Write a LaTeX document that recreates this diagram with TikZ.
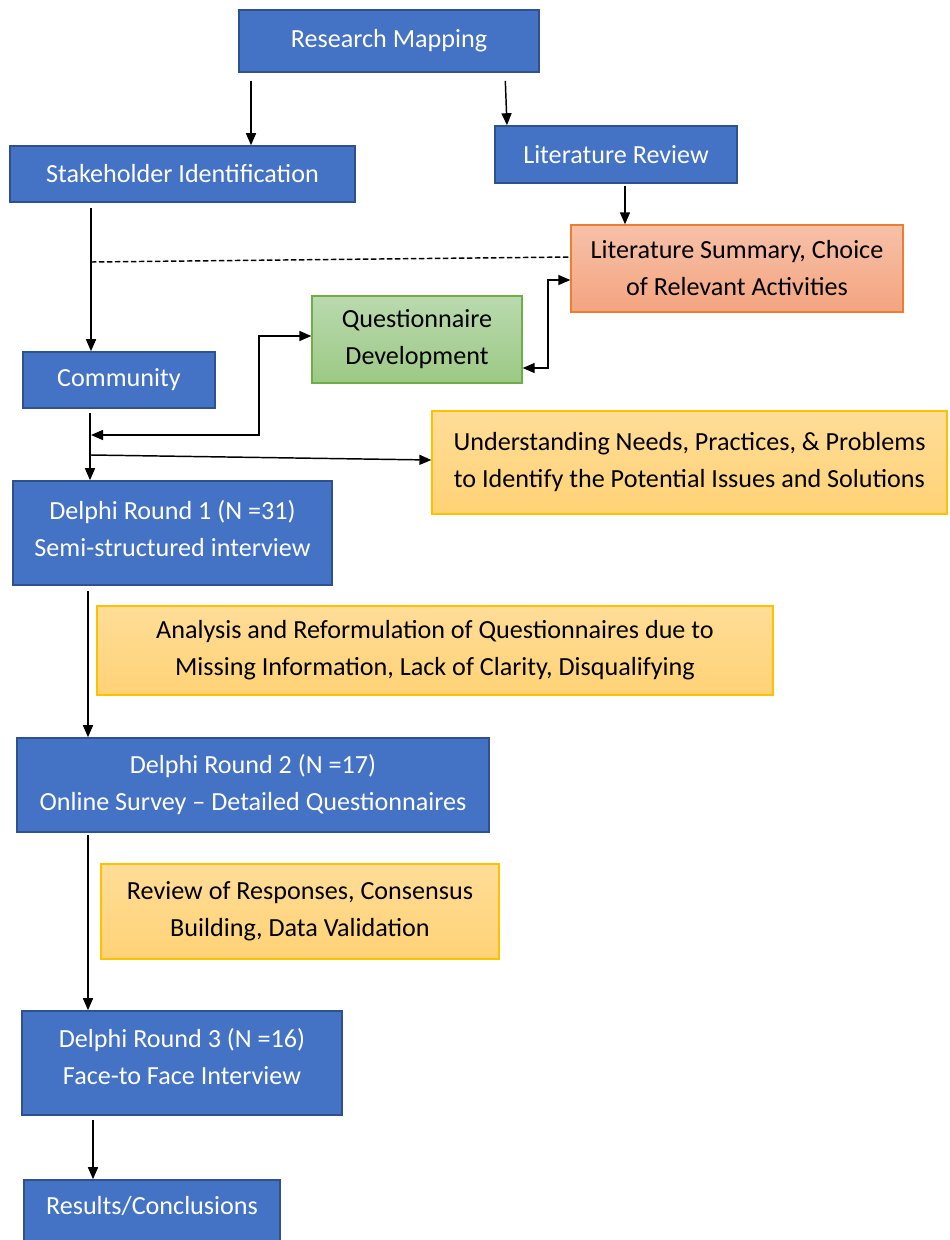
\documentclass[tikz,border=0pt]{standalone}
\usepackage{fontspec}
\setmainfont{Carlito}
\usetikzlibrary{arrows.meta}
\definecolor{stepblue}{HTML}{4472C4}
\definecolor{stepblueedge}{HTML}{2F528F}
\definecolor{salmontop}{HTML}{F6C1A9}
\definecolor{salmonbot}{HTML}{F4A47F}
\definecolor{salmonedge}{HTML}{ED7D31}
\definecolor{greentop}{HTML}{BADAAE}
\definecolor{greenbot}{HTML}{9CC985}
\definecolor{greenedge}{HTML}{70AD47}
\definecolor{yellowtop}{HTML}{FFDD98}
\definecolor{yellowbot}{HTML}{FFD275}
\definecolor{yellowedge}{HTML}{FFC000}
\tikzset{
  span/.style n args={4}{at={({(#1+#3)/2},{(#2+#4)/2})},
    minimum width={(#3-#1)*0.75pt}, minimum height={(#4-#2)*0.75pt}},
  box/.style={rectangle, inner sep=0pt, align=center,
    font=\fontsize{19.6}{27.75}\selectfont},
  bluebox/.style={box, fill=stepblue, draw=stepblueedge, line width=1.2pt, text=white},
  salmonbox/.style={box, draw=salmonedge, line width=1pt, top color=salmontop, bottom color=salmonbot},
  greenbox/.style={box, draw=greenedge, line width=1pt, top color=greentop, bottom color=greenbot},
  notebox/.style={box, draw=yellowedge, line width=1pt, top color=yellowtop, bottom color=yellowbot},
  arr/.style={line width=1.1pt, -{Triangle[length=9pt,width=7.5pt]}},
  arrboth/.style={line width=1.1pt, {Triangle[length=9pt,width=7.5pt]}-{Triangle[length=9pt,width=7.5pt]}},
  dashline/.style={line width=1.1pt, dash pattern=on 4pt off 2pt},
  plain/.style={box, text=white},
}
\begin{document}
\begin{tikzpicture}[x=0.75pt, y=-0.75pt]
\useasboundingbox (0,0) rectangle (950,1240);
\clip (0,0) rectangle (950,1240);

% process steps
\node[bluebox, span={239}{10}{539}{72}] (rm) {Research Mapping};
\node[bluebox, span={10}{146}{355}{202}] (si) {Stakeholder Identification};
\node[bluebox, span={495}{126}{737}{183}] (lr) {Literature Review};
\node[salmonbox, span={571}{225}{903}{312}] (ls) {Literature Summary, Choice\\of Relevant Activities};
\node[greenbox, span={312}{296}{522}{383}] (qd) {Questionnaire\\Development};
\node[bluebox, span={23}{352}{215}{408}] (com) {Community};
\node[notebox, span={432}{411}{947}{514}] (und) {Understanding Needs, Practices, \& Problems\\to Identify the Potential Issues and Solutions};
\node[bluebox, span={13}{481}{332}{585}] (d1) {};
\node[plain] (d1text) at ([yshift=3.5pt]d1.center) {Delphi Round 1 (N =31)\\Semi-structured interview};
\node[notebox, span={97}{606}{773}{695}] (ana) {Analysis and Reformulation of Questionnaires due to\\Missing Information, Lack of Clarity, Disqualifying};
\node[bluebox, span={17}{738}{489}{832}] (d2) {Delphi Round 2 (N =17)\\Online Survey -- Detailed Questionnaires};
\node[notebox, span={101}{864}{499}{959}] (rev) {Review of Responses, Consensus\\Building, Data Validation};
\node[bluebox, span={22}{1011}{342}{1115}] (d3) {};
\node[plain] (d3text) at ([yshift=4.5pt]d3.center) {Delphi Round 3 (N =16)\\Face-to Face Interview};
\node[bluebox, span={24}{1180}{280}{1250}] (res) {};
\node[plain] (restext) at (res.center |- 0,1206) {Results/Conclusions};

% junction points on the community line
\coordinate (dsh) at (91,262);
\coordinate (jq) at (91,435);
\coordinate (ju) at (91,455);

% connectors
\draw[arr, shorten <=6pt] (rm.south -| 251,0) -- (si.north -| 251,0);
\draw[arr, shorten <=6pt] (rm.south -| 505,0) -- (lr.north -| 507,0);
\draw[arr, shorten <=2pt] (lr.south -| 625,0) -- (ls.north -| 625,0);
\draw[arr, shorten <=4pt] (si.south -| 91,0) -- (com.north -| 91,0);
\draw[dashline] (dsh) -- (ls.west |- 0,257);
\draw[arrboth] (ls.west |- 0,280) -- (548,280) |- (qd.east |- 0,368);
\draw[arrboth] (qd.west |- 0,336) -- (259,336) |- (jq);
\draw[arr] (ju) -- (und.west |- 0,460);
\draw[arr, shorten <=3pt] (com.south -| 90,0) -- (d1.north -| 90,0);
\draw[arr, shorten <=4pt] (d1.south -| 88,0) -- (d2.north -| 88,0);
\draw[arr, shorten <=2pt] (d2.south -| 88,0) -- (d3.north -| 88,0);
\draw[arr, shorten <=3pt] (d3.south -| 93,0) -- (res.north -| 93,0);
\end{tikzpicture}
\end{document}
